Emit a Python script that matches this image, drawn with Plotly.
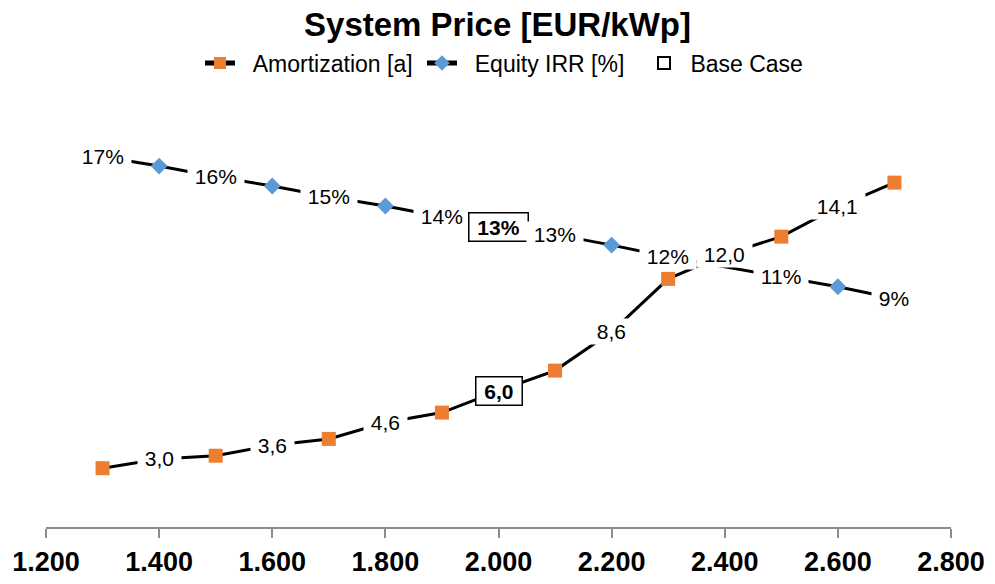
import plotly.graph_objects as go

# System price grid [EUR/kWp]
price = [1300, 1400, 1500, 1600, 1700, 1800, 1900, 2000,
         2100, 2200, 2300, 2400, 2500, 2600, 2700]

# Amortization period [a] per system price
amortization = [2.59, 3.0, 3.14, 3.6, 3.88, 4.6, 5.04, 6.0,
                6.89, 8.6, 10.93, 12.0, 12.79, 14.1, 15.17]

# Equity IRR [%] per system price
equity_irr = [17.45, 16.92, 16.31, 15.79, 15.18, 14.65, 14.04, 13.44,
              13.04, 12.43, 11.77, 11.2, 10.63, 10.06, 9.40]

base_case_price = 2000

# which prices carry a marker and which carry a value label
amort_marker_prices = [1300, 1500, 1700, 1900, 2100, 2300, 2500, 2700]
amort_label_prices = [1400, 1600, 1800, 2200, 2400, 2600]
irr_marker_prices = [1400, 1600, 1800, 2000, 2200, 2600]
irr_label_prices = [1300, 1500, 1700, 1900, 2100, 2300, 2500, 2700]

x_ticks = [1200, 1400, 1600, 1800, 2000, 2200, 2400, 2600, 2800]

ORANGE = "#ED7D31"
BLUE = "#5B9BD5"
FONT = "Liberation Sans, Arial, sans-serif"
NB = "\u00a0"

fig = go.Figure()

fig.add_trace(go.Scatter(
    x=price, y=amortization, name=NB * 2 + "Amortization [a]",
    mode="lines+markers", yaxis="y",
    line=dict(color="black", width=3),
    marker=dict(symbol="square", color=ORANGE, opacity=1,
                size=[14 if p in amort_marker_prices else 0 for p in price],
                line=dict(width=0)),
    hoverinfo="skip",
))

fig.add_trace(go.Scatter(
    x=price, y=equity_irr, name=NB * 2 + "Equity IRR [%]",
    mode="lines+markers", yaxis="y2",
    line=dict(color="black", width=3),
    marker=dict(symbol="diamond", color=BLUE, opacity=1,
                size=[13 if p in irr_marker_prices else 0 for p in price],
                line=dict(width=0)),
    hoverinfo="skip",
))

fig.add_trace(go.Scatter(
    x=[None], y=[None], name=NB + "Base Case", mode="markers",
    marker=dict(symbol="square", color="white", size=12,
                line=dict(color="black", width=3)),
))


def fmt_amort(v):
    return f"{v:.1f}".replace(".", ",")


def fmt_irr(v):
    return f"{v:.0f}%"


def value_label(p, v, yref, text, base):
    style = dict(x=p, y=v, xref="x", yref=yref, text=NB + text + NB,
                 showarrow=False, bgcolor="white")
    if base:
        style.update(borderpad=2, bordercolor="black", borderwidth=1.5,
                     font=dict(family=FONT, size=21, color="black", weight="bold"))
    else:
        style.update(borderpad=1, font=dict(family=FONT, size=21, color="black"))
    return style


annotations = []
for p, v in zip(price, amortization):
    if p in amort_label_prices or p == base_case_price:
        annotations.append(value_label(p, v, "y", fmt_amort(v), p == base_case_price))

for p, v in zip(price, equity_irr):
    if p in irr_label_prices or p == base_case_price:
        annotations.append(value_label(p, v, "y2", fmt_irr(v), p == base_case_price))

fig.update_layout(
    width=995, height=584,
    margin=dict(l=46, r=44, t=95, b=57, autoexpand=False),
    paper_bgcolor="white", plot_bgcolor="white",
    separators=",.",
    font=dict(family=FONT, color="black"),
    title=dict(text="System Price [EUR/kWp]", x=0.5, xanchor="center",
               y=1 - 24 / 584, yanchor="middle", yref="container",
               font=dict(family=FONT, size=33, color="black", weight="bold")),
    showlegend=True,
    legend=dict(orientation="h", x=(200 - 46) / 905, xanchor="left",
                y=1 + (95 - 63) / 432, yanchor="middle",
                entrywidth=177, entrywidthmode="pixels",
                font=dict(family=FONT, size=23, color="black"),
                itemsizing="constant", bgcolor="rgba(0,0,0,0)"),
    xaxis=dict(range=[1200, 2800], tickvals=x_ticks, tickformat=",.0f",
               showgrid=False, zeroline=False, automargin=False,
               showline=True, linecolor="#8c8c8c", linewidth=2,
               ticks="outside", ticklen=9, tickwidth=2, tickcolor="#8c8c8c",
               ticklabelstandoff=1,
               tickfont=dict(family=FONT, size=27, color="black", weight="bold")),
    yaxis=dict(range=[0, 19.03], visible=False, showgrid=False, zeroline=False),
    yaxis2=dict(range=[-3.59, 20.96], overlaying="y", side="right",
                visible=False, showgrid=False, zeroline=False),
    annotations=annotations,
)

fig.write_html("out.html")
